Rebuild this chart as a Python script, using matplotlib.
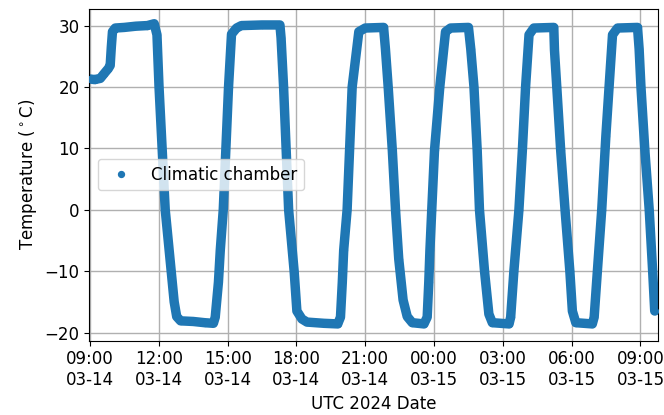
import matplotlib
matplotlib.use("Agg")
import matplotlib.pyplot as plt
import matplotlib.dates as mdates
import numpy as np
import pandas as pd

# Start of record and sample times (hours after start), temperatures (°C)
start_time = "2024-03-14 09:00"
hours = [
    0.0, 0.2, 0.45, 0.6, 0.8, 0.88, 0.93, 0.98, 1.1, 1.5, 2.0, 2.5, 2.8,
    2.92, 3.01, 3.28, 3.54, 3.67, 3.78, 3.95, 4.5, 5.0, 5.38,
    5.46, 5.6, 5.68, 5.81, 6.04, 6.17, 6.39, 6.6, 7.5, 8.28,
    8.33, 8.44, 8.66, 8.9, 9.02, 9.24, 9.46, 10.2, 10.8,
    10.92, 11.0, 11.06, 11.21, 11.43, 11.72, 12.0, 12.8,
    12.88, 13.0, 13.18, 13.32, 13.46, 13.65, 13.83, 14.05, 14.56,
    14.7, 14.77, 14.82, 14.9, 15.02, 15.25, 15.5, 15.72, 16.5,
    16.6, 16.74, 16.88, 16.98, 17.2, 17.39, 17.54, 18.27,
    18.34, 18.48, 18.7, 18.85, 18.99, 19.14, 19.35, 20.22,
    20.25, 20.35, 20.52, 20.71, 20.92, 21.03, 21.18, 21.9,
    21.98, 22.12, 22.31, 22.49, 22.63, 22.78, 23.0, 23.87,
    23.94, 24.02, 24.19, 24.38, 24.53, 24.62,
]
temps = [
    21.3, 21.2, 21.4, 22.1, 23.0, 23.5, 26.5, 29.0, 29.6, 29.7, 29.9, 30.0, 30.3,
    28.5, 20.0, 0.0, -10.0, -15.0, -17.4, -18.1, -18.2, -18.4, -18.5,
    -17.5, -11.8, -6.6, 0.0, 20.0, 28.6, 29.6, 30.0, 30.1, 30.1,
    28.0, 20.0, 0.0, -10.0, -16.5, -17.8, -18.3, -18.5, -18.6,
    -17.5, -11.8, -6.6, 0.0, 20.0, 29.0, 29.6, 29.7,
    26.2, 20.0, 9.7, 0.0, -8.0, -14.7, -17.4, -18.4, -18.6,
    -17.5, -11.8, -6.6, 0.0, 9.7, 20.0, 29.0, 29.6, 29.7,
    26.2, 20.0, 9.7, 0.0, -10.0, -17.0, -18.4, -18.6,
    -17.5, -10.0, 0.0, 9.7, 20.0, 28.5, 29.6, 29.7,
    26.0, 20.0, 9.7, 0.0, -10.0, -16.5, -18.4, -18.6,
    -17.5, -10.0, 0.0, 12.0, 20.0, 28.5, 29.6, 29.7,
    26.2, 20.0, 9.7, 0.0, -10.0, -16.5,
]
series_label = "Climatic chamber"
x_label = "UTC 2024 Date"
y_label = r"Temperature ($^\circ$C)"

t0 = pd.Timestamp(start_time)
times = [t0 + pd.Timedelta(hours=h) for h in hours]

color = "#1f77b4"
plt.rcParams["font.size"] = 12
fig = plt.figure(figsize=(6.64, 4.15), dpi=100)
ax = fig.add_axes([89.3 / 664, 1 - 340.5 / 415, (657.7 - 89.3) / 664, (340.5 - 9) / 415])

ax.plot(times, temps, "-", color=color, lw=6.8, solid_joinstyle="round",
        solid_capstyle="round", zorder=2)
ax.plot(times, temps, ".", color=color, ms=8.5, label=series_label, zorder=3)

ax.set_xlim(t0 - pd.Timedelta(hours=0.03), t0 + pd.Timedelta(hours=24.75))
ax.set_ylim(-21.3, 32.7)
ax.xaxis.set_major_locator(mdates.HourLocator(byhour=range(0, 24, 3)))
ax.xaxis.set_major_formatter(mdates.DateFormatter("%H:%M\n%m-%d"))
ax.set_yticks([-20, -10, 0, 10, 20, 30])
ax.grid(True, color="#b0b0b0", lw=1.0)
ax.set_axisbelow(True)
ax.set_xlabel(x_label)
ax.set_ylabel(y_label)
ax.legend(loc="center left")

fig.savefig("out.png", dpi=100)
